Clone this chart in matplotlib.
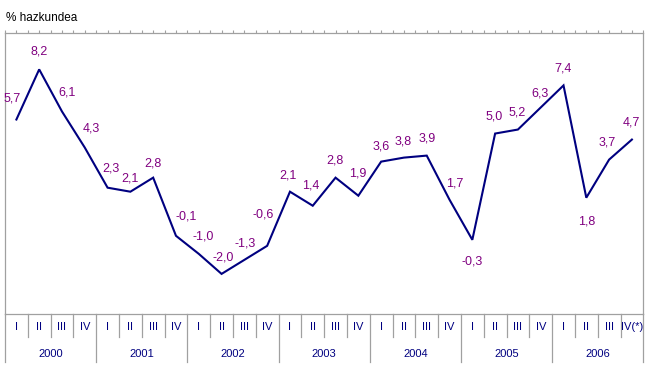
import numpy as np
import matplotlib.pyplot as plt

plt.rcParams['font.family'] = ['Liberation Sans', 'DejaVu Sans']

years = ['2000', '2001', '2002', '2003', '2004', '2005', '2006']
quarters = ['I', 'II', 'III', 'IV'] * 6 + ['I', 'II', 'III', 'IV(*)']
growth = [5.7, 8.2, 6.1, 4.3, 2.3, 2.1, 2.8, -0.1, -1.0, -2.0, -1.3, -0.6,
          2.1, 1.4, 2.8, 1.9, 3.6, 3.8, 3.9, 1.7, -0.3, 5.0, 5.2, 6.3,
          7.4, 1.8, 3.7, 4.7]

# label offsets from the point, in pixels (x right, y down)
label_off = [(-4, -21), (0, -18), (5, -19), (7, -19), (3, -19), (0, -13),
             (0, -14), (10, -19), (4, -17), (2, -16), (1, -16), (-4, -31),
             (-2, -16), (-2, -20), (-1, -17), (-1, -22), (0, -15), (-1, -16),
             (0, -17), (5, -16), (0, 22), (-1, -17), (-1, -17), (-1, -14),
             (0, -17), (0, 24), (-2, -17), (-1, -17)]

W, H = 649, 370
fig = plt.figure(figsize=(W / 100, H / 100), dpi=100)
left, right, top, bottom = 5, 643.3, 33.3, 314
ax = fig.add_axes([left / W, 1 - bottom / H, (right - left) / W, (bottom - top) / H])

grey = '#a0a0a0'
navy = '#000080'
purple = '#800080'

x = np.arange(len(growth)) + 0.5
ax.plot(x, growth, color=navy, lw=1.5, solid_joinstyle='miter')

for xi, v, (dx, dy) in zip(x, growth, label_off):
    ax.annotate(f'{v:.1f}'.replace('.', ','), (xi, v), xytext=(dx, -dy),
                textcoords='offset pixels', ha='center', va='center',
                color=purple, fontsize=9)

ax.set_xlim(0, len(growth))
ax.set_ylim(-4, 10)
ax.set_yticks([])
ax.set_xticks(np.arange(0, len(growth) + 0.5, 0.5))
ax.tick_params(axis='x', top=True, bottom=False, labeltop=False,
               labelbottom=False, direction='out', length=2.5,
               color=grey, width=0.8)
for s in ax.spines.values():
    s.set_color(grey)
    s.set_linewidth(0.9)

trans = ax.get_xaxis_transform()
ah = bottom - top
q_low = -(336.7 - bottom) / ah
y_low = -(361.5 - bottom) / ah
for i in range(len(growth) + 1):
    low = y_low if i % 4 == 0 else q_low
    ax.plot([i, i], [0, low], transform=trans, color=grey, lw=0.9,
            clip_on=False)

for xi, q in zip(x, quarters):
    ax.text(xi, -(327 - bottom) / ah, q, transform=trans, ha='center',
            va='center', color=navy, fontsize=8)
for j, yr in enumerate(years):
    ax.text(4 * j + 2, -(354 - bottom) / ah, yr, transform=trans,
            ha='center', va='center', color=navy, fontsize=8)

fig.text(6 / W, 1 - 21 / H, '% hazkundea', ha='left', va='baseline',
         fontsize=8.5, color='black')

fig.savefig('out.png', dpi=100)
